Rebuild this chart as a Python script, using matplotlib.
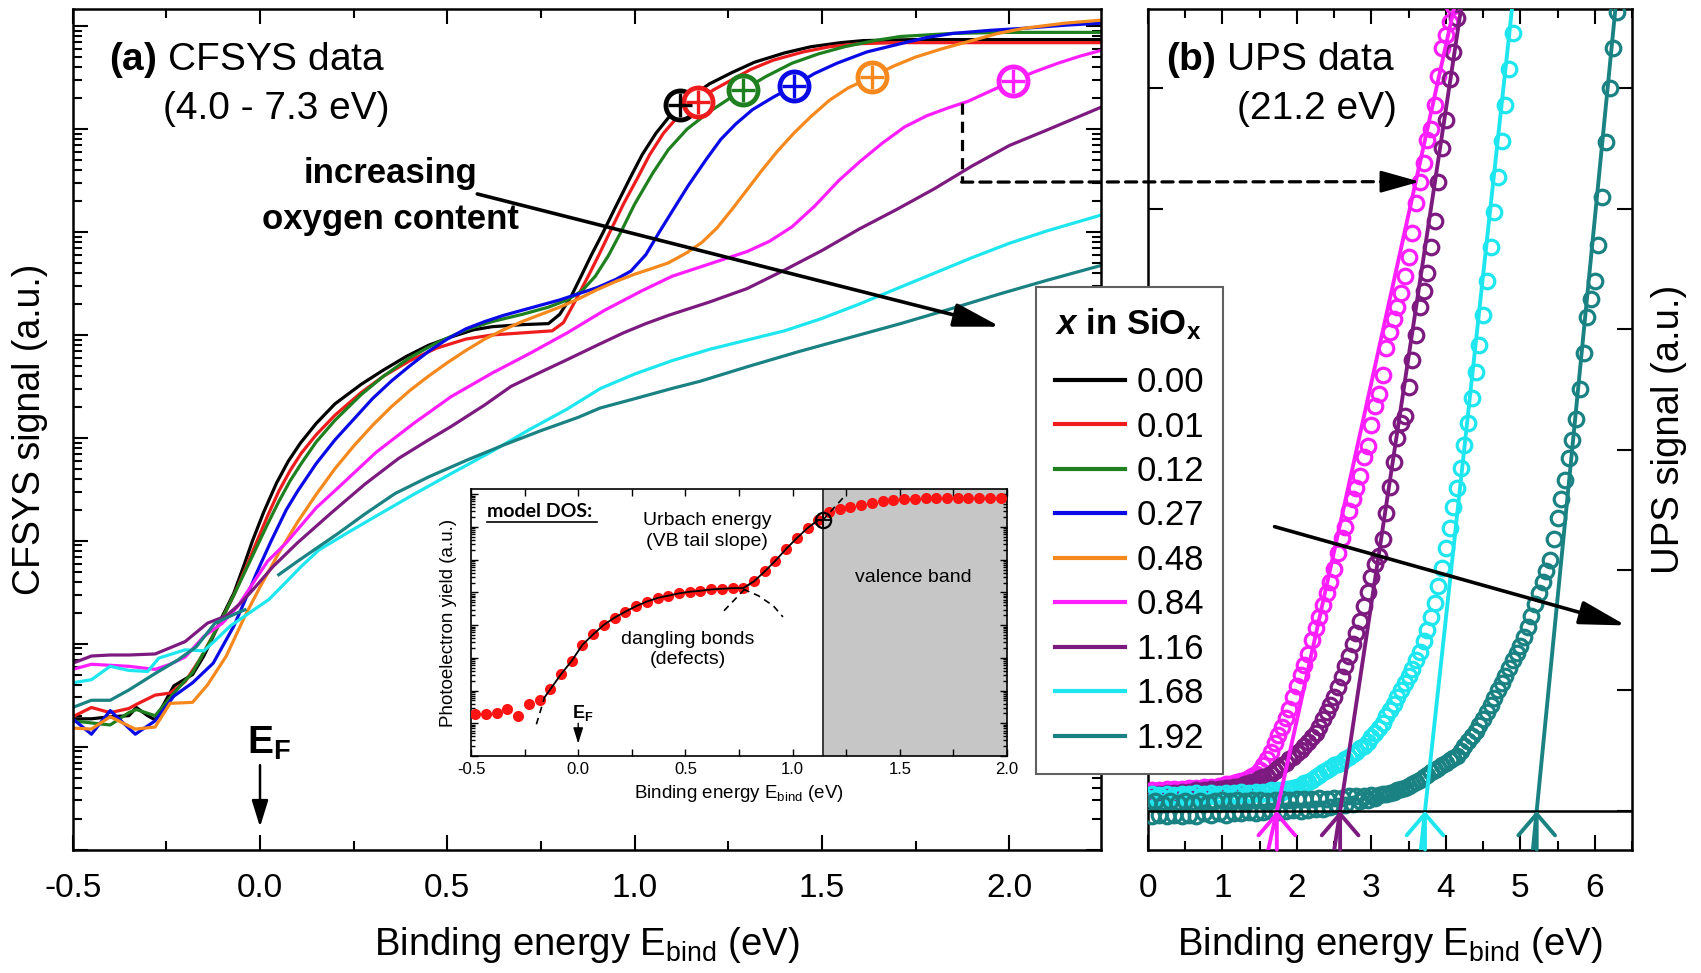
import numpy as np
import matplotlib
matplotlib.use("Agg")
import matplotlib.pyplot as plt
from matplotlib.ticker import MultipleLocator, LogLocator, NullFormatter, FormatStrFormatter
from matplotlib.patches import ConnectionPatch

plt.rcParams.update({
    'font.family': ['Liberation Sans', 'DejaVu Sans'],
    'mathtext.fontset': 'custom',
    'mathtext.rm': 'Liberation Sans',
    'mathtext.bf': 'Liberation Sans:bold',
    'mathtext.it': 'Liberation Sans:italic:bold',
    'mathtext.sf': 'Liberation Sans',
    'axes.unicode_minus': False,
    'axes.linewidth': 1.8,
})

# ---------------- data ----------------
x_labels = ['0.00', '0.01', '0.12', '0.27', '0.48', '0.84', '1.16', '1.68', '1.92']
colors = ['#000000', '#ee1c1c', '#1e801e', '#0a0ae6', '#f5891e',
          '#ff1eff', '#7d1a80', '#1ee6ee', '#1a8282']

# CFSYS curves: binding energy (eV) and log10 of signal (a.u.)
cf_E_000 = [-0.5, -0.45, -0.4, -0.35, -0.33, -0.3, -0.28, -0.23, -0.18, -0.15, -0.125, -0.1, -0.07, -0.045, -0.02, 0.01, 0.044, 0.075, 0.108, 0.15, 0.2, 0.27, 0.33, 0.39, 0.45, 0.51, 0.57, 0.62, 0.7, 0.77, 0.8, 0.83, 0.857, 0.885, 0.915, 0.95, 0.99, 1.02, 1.057, 1.09, 1.12, 1.16, 1.2, 1.26, 1.32, 1.4, 1.47, 1.55, 1.61, 1.75, 1.9, 2.1, 2.25]
cf_L_000 = [1.27, 1.27, 1.29, 1.30, 1.38, 1.30, 1.26, 1.59, 1.70, 1.88, 2.07, 2.27, 2.49, 2.74, 3.00, 3.28, 3.56, 3.77, 3.95, 4.14, 4.33, 4.52, 4.66, 4.79, 4.90, 4.98, 5.05, 5.08, 5.10, 5.11, 5.20, 5.37, 5.57, 5.78, 5.99, 6.25, 6.54, 6.75, 6.96, 7.11, 7.23, 7.34, 7.44, 7.55, 7.65, 7.74, 7.80, 7.84, 7.86, 7.87, 7.87, 7.87, 7.87]

cf_E_001 = [-0.5, -0.45, -0.4, -0.35, -0.33, -0.28, -0.24, -0.2, -0.16, -0.13, -0.1, -0.07, -0.04, -0.01, 0.02, 0.05, 0.08, 0.11, 0.15, 0.2, 0.27, 0.33, 0.4, 0.47, 0.55, 0.62, 0.7, 0.78, 0.81, 0.84, 0.876, 0.905, 0.934, 0.97, 1.01, 1.04, 1.077, 1.12, 1.168, 1.21, 1.26, 1.31, 1.37, 1.45, 1.52, 1.6, 1.7, 1.9, 2.25]
cf_L_001 = [1.29, 1.38, 1.33, 1.37, 1.41, 1.50, 1.52, 1.63, 1.85, 2.05, 2.25, 2.47, 2.72, 2.98, 3.24, 3.48, 3.68, 3.85, 4.03, 4.22, 4.44, 4.60, 4.75, 4.87, 4.96, 5.00, 5.02, 5.04, 5.12, 5.32, 5.57, 5.78, 6.00, 6.27, 6.54, 6.75, 6.96, 7.14, 7.27, 7.38, 7.48, 7.58, 7.67, 7.75, 7.80, 7.83, 7.84, 7.84, 7.84]

cf_E_012 = [-0.5, -0.45, -0.4, -0.35, -0.33, -0.28, -0.23, -0.18, -0.14, -0.1, -0.07, -0.04, -0.01, 0.02, 0.05, 0.08, 0.11, 0.15, 0.2, 0.27, 0.33, 0.4, 0.47, 0.55, 0.62, 0.7, 0.77, 0.82, 0.86, 0.895, 0.93, 0.962, 1.0, 1.048, 1.09, 1.14, 1.2, 1.25, 1.29, 1.35, 1.42, 1.49, 1.56, 1.64, 1.71, 1.85, 2.0, 2.25]
cf_L_012 = [1.25, 1.23, 1.21, 1.33, 1.36, 1.30, 1.52, 1.72, 1.98, 2.25, 2.47, 2.70, 2.93, 3.16, 3.38, 3.58, 3.75, 3.96, 4.17, 4.42, 4.60, 4.78, 4.92, 5.05, 5.13, 5.20, 5.27, 5.34, 5.43, 5.57, 5.77, 5.99, 6.27, 6.57, 6.80, 7.00, 7.17, 7.29, 7.38, 7.51, 7.64, 7.73, 7.80, 7.86, 7.90, 7.93, 7.94, 7.94]

cf_E_027 = [-0.5, -0.45, -0.4, -0.333, -0.28, -0.23, -0.18, -0.125, -0.07, -0.04, -0.01, 0.03, 0.07, 0.1, 0.15, 0.2, 0.25, 0.3, 0.35, 0.4, 0.45, 0.5, 0.55, 0.6, 0.65, 0.7, 0.75, 0.8, 0.85, 0.9, 0.95, 0.99, 1.03, 1.066, 1.1, 1.143, 1.19, 1.23, 1.27, 1.315, 1.37, 1.425, 1.48, 1.54, 1.62, 1.71, 1.78, 1.85, 1.95, 2.04, 2.15, 2.25]
cf_L_027 = [1.27, 1.12, 1.35, 1.12, 1.25, 1.49, 1.62, 1.81, 2.17, 2.42, 2.68, 3.00, 3.30, 3.48, 3.75, 3.98, 4.18, 4.38, 4.55, 4.70, 4.84, 4.96, 5.06, 5.13, 5.19, 5.24, 5.29, 5.34, 5.40, 5.46, 5.54, 5.62, 5.78, 6.00, 6.20, 6.45, 6.70, 6.90, 7.05, 7.19, 7.31, 7.42, 7.54, 7.64, 7.75, 7.83, 7.89, 7.93, 7.96, 7.98, 8.01, 8.03]

cf_E_048 = [-0.5, -0.45, -0.4, -0.333, -0.28, -0.24, -0.18, -0.14, -0.09, -0.04, 0.0, 0.05, 0.1, 0.15, 0.2, 0.25, 0.3, 0.35, 0.4, 0.45, 0.5, 0.55, 0.6, 0.65, 0.7, 0.75, 0.8, 0.85, 0.9, 0.95, 1.0, 1.05, 1.09, 1.14, 1.18, 1.22, 1.26, 1.3, 1.34, 1.38, 1.425, 1.47, 1.52, 1.57, 1.635, 1.69, 1.75, 1.82, 1.9, 1.97, 2.04, 2.15, 2.25]
cf_L_048 = [1.18, 1.17, 1.29, 1.17, 1.19, 1.42, 1.43, 1.60, 1.88, 2.27, 2.55, 2.88, 3.18, 3.45, 3.70, 3.92, 4.12, 4.30, 4.46, 4.60, 4.73, 4.85, 4.96, 5.05, 5.13, 5.20, 5.27, 5.35, 5.44, 5.52, 5.59, 5.65, 5.70, 5.80, 5.90, 6.04, 6.22, 6.41, 6.60, 6.78, 6.96, 7.12, 7.28, 7.40, 7.51, 7.61, 7.70, 7.78, 7.86, 7.93, 7.98, 8.03, 8.06]

cf_E_084 = [-0.5, -0.45, -0.4, -0.35, -0.28, -0.24, -0.2, -0.15, -0.1, -0.06, -0.02, 0.02, 0.07, 0.11, 0.15, 0.21, 0.31, 0.41, 0.51, 0.62, 0.72, 0.82, 0.92, 1.02, 1.1, 1.2, 1.3, 1.36, 1.42, 1.48, 1.545, 1.6, 1.66, 1.72, 1.78, 1.84, 1.89, 1.95, 2.01, 2.07, 2.13, 2.19, 2.25]
cf_L_084 = [1.75, 1.80, 1.79, 1.78, 1.75, 1.80, 1.87, 2.07, 2.20, 2.36, 2.58, 2.80, 2.98, 3.15, 3.32, 3.52, 3.86, 4.14, 4.40, 4.63, 4.82, 5.02, 5.24, 5.43, 5.57, 5.69, 5.81, 5.91, 6.05, 6.25, 6.50, 6.68, 6.86, 7.02, 7.13, 7.21, 7.27, 7.37, 7.47, 7.56, 7.64, 7.71, 7.77]

cf_E_116 = [-0.5, -0.45, -0.4, -0.35, -0.28, -0.24, -0.2, -0.14, -0.09, -0.05, -0.02, 0.035, 0.1, 0.19, 0.28, 0.37, 0.45, 0.51, 0.6, 0.67, 0.75, 0.82, 0.9, 0.97, 1.03, 1.09, 1.2, 1.3, 1.4, 1.5, 1.6, 1.7, 1.8, 1.9, 2.0, 2.1, 2.25]
cf_L_116 = [1.81, 1.88, 1.89, 1.89, 1.90, 1.96, 2.02, 2.20, 2.27, 2.40, 2.52, 2.75, 2.98, 3.27, 3.55, 3.80, 3.98, 4.11, 4.32, 4.50, 4.64, 4.76, 4.90, 5.02, 5.11, 5.19, 5.32, 5.45, 5.63, 5.82, 6.03, 6.22, 6.42, 6.64, 6.84, 6.99, 7.22]

cf_E_168 = [-0.5, -0.45, -0.4, -0.35, -0.3, -0.27, -0.2, -0.15, -0.12, -0.08, -0.04, 0.0, 0.024, 0.07, 0.11, 0.157, 0.23, 0.31, 0.41, 0.514, 0.62, 0.719, 0.82, 0.909, 1.0, 1.1, 1.2, 1.3, 1.4, 1.5, 1.6, 1.7, 1.8, 1.9, 2.0, 2.1, 2.25]
cf_L_168 = [1.62, 1.65, 1.78, 1.74, 1.73, 1.86, 1.94, 1.93, 2.03, 2.17, 2.27, 2.37, 2.43, 2.60, 2.75, 2.91, 3.07, 3.24, 3.45, 3.66, 3.87, 4.08, 4.28, 4.48, 4.62, 4.75, 4.86, 4.95, 5.04, 5.16, 5.30, 5.45, 5.60, 5.75, 5.89, 6.01, 6.17]

cf_E_192 = [-0.5, -0.45, -0.4, -0.35, -0.28, -0.22, -0.17, -0.12, -0.06, -0.04, np.nan, 0.05, 0.1, 0.208, 0.28, 0.361, 0.45, 0.55, 0.65, 0.75, 0.85, 0.908, 1.0, 1.1, 1.175, 1.3, 1.44, 1.58, 1.71, 1.85, 1.976, 2.1, 2.25]
cf_L_192 = [1.38, 1.45, 1.45, 1.55, 1.71, 1.84, 1.97, 2.20, 2.30, 2.33, np.nan, 2.67, 2.80, 3.07, 3.26, 3.46, 3.62, 3.78, 3.93, 4.07, 4.20, 4.29, 4.38, 4.48, 4.55, 4.69, 4.84, 4.98, 5.11, 5.26, 5.40, 5.53, 5.68]

# VB-onset markers (x = 0.00 ... 0.84)
onset_E = [1.12, 1.168, 1.29, 1.425, 1.635, 2.01]
onset_L = [7.23, 7.26, 7.38, 7.42, 7.51, 7.47]

# inset: model DOS
ins_E = [-0.48, -0.43, -0.38, -0.33, -0.28, -0.23, -0.18, -0.13, -0.08, -0.03, 0.02, 0.07, 0.12, 0.17, 0.22, 0.27, 0.32, 0.37, 0.42, 0.47, 0.52, 0.57, 0.62, 0.67, 0.72, 0.77, 0.82, 0.87, 0.92, 0.97, 1.02, 1.07, 1.12, 1.17, 1.22, 1.27, 1.32, 1.37, 1.42, 1.47, 1.52, 1.57, 1.62, 1.67, 1.72, 1.77, 1.82, 1.87, 1.92, 1.97]
ins_L = [1.28, 1.28, 1.31, 1.44, 1.22, 1.60, 1.72, 2.04, 2.50, 2.91, 3.40, 3.72, 4.01, 4.23, 4.41, 4.58, 4.72, 4.83, 4.90, 4.97, 5.02, 5.05, 5.09, 5.11, 5.13, 5.13, 5.34, 5.64, 5.97, 6.33, 6.66, 6.97, 7.21, 7.45, 7.55, 7.62, 7.68, 7.73, 7.78, 7.81, 7.84, 7.86, 7.87, 7.88, 7.89, 7.89, 7.90, 7.90, 7.90, 7.90]
ins_fit_E = [-0.157, -0.13, -0.08, -0.03, 0.02, 0.07, 0.12, 0.17, 0.22, 0.27, 0.32, 0.37, 0.42, 0.47, 0.52, 0.57, 0.62, 0.67, 0.72, 0.77, 0.82, 0.87, 0.92, 0.97, 1.02, 1.07, 1.12, 1.14]
ins_fit_L = [1.79, 2.04, 2.50, 2.91, 3.40, 3.72, 4.01, 4.23, 4.41, 4.58, 4.72, 4.83, 4.90, 4.97, 5.02, 5.05, 5.09, 5.11, 5.13, 5.13, 5.34, 5.64, 5.97, 6.33, 6.66, 6.97, 7.21, 7.20]
ins_tail_E = [-0.195, -0.157]
ins_tail_L = [0.97, 1.79]
ins_db_E = [0.77, 0.84, 0.91, 0.955]
ins_db_L = [5.10, 4.90, 4.59, 4.25]
ins_ur_lo_E = [0.68, 0.80]
ins_ur_lo_L = [4.44, 5.26]
ins_ur_hi_E = [1.14, 1.245]
ins_ur_hi_L = [7.20, 7.96]
ins_vb_edge = 1.14

# UPS data (binding energy, signal) for x = 0.84, 1.16, 1.68, 1.92
ups_E_084 = [0.0, 0.05, 0.1, 0.15, 0.2, 0.25, 0.3, 0.35, 0.4, 0.45, 0.5, 0.55, 0.6, 0.65, 0.7, 0.75, 0.8, 0.85, 0.9, 0.95,
             1.0, 1.05, 1.1, 1.15, 1.2, 1.25, 1.3, 1.35, 1.4,
             1.45, 1.5, 1.55, 1.6, 1.65, 1.7, 1.75, 1.8, 1.85, 1.9, 1.95,
             2.0, 2.05, 2.1, 2.15, 2.2, 2.25, 2.3, 2.35, 2.4, 2.45, 2.5, 2.55, 2.6, 2.65, 2.7, 2.75, 2.8, 2.85, 2.9, 2.95,
             3.0, 3.05, 3.1, 3.15, 3.2, 3.25, 3.3, 3.35, 3.4, 3.45, 3.5, 3.55, 3.6, 3.65, 3.7, 3.75, 3.8, 3.85, 3.9, 3.95,
             4.0, 4.05, 4.1]
ups_U_084 = [0.15, 0.17, 0.15, 0.17, 0.16, 0.18, 0.16, 0.18, 0.17, 0.18, 0.17, 0.19, 0.18, 0.19, 0.18, 0.20, 0.19, 0.20, 0.19, 0.21,
             0.21, 0.22, 0.22, 0.23, 0.24, 0.25, 0.26, 0.27, 0.29,
             0.31, 0.34, 0.38, 0.43, 0.49, 0.56, 0.63, 0.70, 0.77, 0.85, 0.95,
             1.04, 1.13, 1.21, 1.30, 1.42, 1.52, 1.61, 1.71, 1.81, 1.90, 2.01, 2.14, 2.27, 2.36, 2.49, 2.59, 2.68, 2.78, 2.94, 3.03,
             3.20, 3.36, 3.46, 3.62, 3.84, 3.98, 4.08, 4.18, 4.30, 4.44, 4.60, 4.80, 5.05, 5.22, 5.38, 5.57, 5.66, 5.86, 6.10, 6.33,
             6.44, 6.55, 6.68]
ups_E_116 = [0.0, 0.05, 0.1, 0.15, 0.2, 0.25, 0.3, 0.35, 0.4, 0.45, 0.5, 0.55, 0.6, 0.65, 0.7, 0.75, 0.8, 0.85, 0.9, 0.95,
             1.0, 1.05, 1.1, 1.15, 1.2, 1.25, 1.3, 1.35, 1.4, 1.45, 1.5,
             1.55, 1.6, 1.65, 1.7, 1.75, 1.8, 1.85, 1.9, 1.95,
             2.0, 2.05, 2.1, 2.15, 2.2, 2.25, 2.3, 2.35, 2.4, 2.45, 2.5, 2.55, 2.6, 2.65, 2.7, 2.75, 2.8, 2.85, 2.9, 2.95,
             3.0, 3.05, 3.1, 3.15, 3.2, 3.25, 3.3, 3.35, 3.4, 3.45, 3.5, 3.55, 3.6, 3.65, 3.7, 3.75, 3.8, 3.85, 3.9, 3.95,
             4.0, 4.05, 4.1, 4.15]
ups_U_116 = [0.12, 0.14, 0.12, 0.14, 0.13, 0.15, 0.13, 0.15, 0.14, 0.16, 0.14, 0.16, 0.15, 0.17, 0.15, 0.17, 0.16, 0.18, 0.17, 0.18,
             0.18, 0.19, 0.19, 0.20, 0.20, 0.21, 0.22, 0.23, 0.24, 0.25, 0.27,
             0.28, 0.29, 0.31, 0.33, 0.36, 0.38, 0.40, 0.43, 0.45,
             0.48, 0.51, 0.54, 0.57, 0.61, 0.65, 0.70, 0.76, 0.82, 0.88, 0.95, 1.03, 1.11, 1.20, 1.29, 1.39, 1.48, 1.58, 1.70, 1.82,
             1.94, 2.05, 2.12, 2.26, 2.47, 2.69, 2.90, 3.10, 3.22, 3.28, 3.52, 3.74, 3.95, 4.18, 4.32, 4.47, 4.68, 4.90, 5.22, 5.50,
             5.74, 6.08, 6.30, 6.58]
ups_E_168 = [0.0, 0.05, 0.1, 0.15, 0.2, 0.25, 0.3, 0.35, 0.4, 0.45, 0.5, 0.55, 0.6, 0.65, 0.7, 0.75, 0.8, 0.85, 0.9, 0.95,
             1.0, 1.05, 1.1, 1.15, 1.2, 1.25, 1.3, 1.35, 1.4, 1.45, 1.5, 1.55, 1.6, 1.65, 1.7, 1.75, 1.8, 1.85, 1.9,
             1.95, 2.0, 2.05, 2.1, 2.15, 2.2, 2.25, 2.3, 2.35, 2.4, 2.45, 2.5, 2.55, 2.6, 2.65, 2.7, 2.75, 2.8, 2.85, 2.9, 2.95,
             3.0, 3.05, 3.1, 3.15, 3.2, 3.25, 3.3, 3.35, 3.4, 3.45, 3.5, 3.55, 3.6, 3.65, 3.7, 3.75, 3.8, 3.85, 3.9, 3.95,
             4.0, 4.05, 4.1, 4.15, 4.2, 4.25, 4.3, 4.35, 4.4, 4.45, 4.5, 4.55, 4.6, 4.65, 4.7, 4.75, 4.8, 4.85, 4.9]
ups_U_168 = [0.11, 0.14, 0.10, 0.13, 0.11, 0.14, 0.10, 0.13, 0.12, 0.14, 0.11, 0.14, 0.12, 0.15, 0.11, 0.14, 0.12, 0.15, 0.12, 0.14,
             0.13, 0.15, 0.12, 0.15, 0.13, 0.16, 0.13, 0.15, 0.14, 0.16, 0.14, 0.16, 0.15, 0.17, 0.15, 0.17, 0.16, 0.18, 0.18,
             0.19, 0.20, 0.21, 0.23, 0.24, 0.26, 0.28, 0.30, 0.32, 0.34, 0.36, 0.38, 0.39, 0.41, 0.43, 0.45, 0.47, 0.49, 0.52, 0.54, 0.57,
             0.61, 0.65, 0.69, 0.73, 0.79, 0.84, 0.89, 0.95, 1.00, 1.06, 1.12, 1.18, 1.25, 1.32, 1.41, 1.50, 1.61, 1.73, 1.87, 2.02,
             2.18, 2.35, 2.52, 2.68, 2.85, 3.04, 3.22, 3.43, 3.64, 3.87, 4.12, 4.40, 4.68, 4.97, 5.26, 5.56, 5.86, 6.16, 6.46]
ups_E_192 = [0.0, 0.05, 0.1, 0.15, 0.2, 0.25, 0.3, 0.35, 0.4, 0.45, 0.5, 0.55, 0.6, 0.65, 0.7, 0.75, 0.8, 0.85, 0.9, 0.95,
             1.0, 1.05, 1.1, 1.15, 1.2, 1.25, 1.3, 1.35, 1.4, 1.45, 1.5, 1.55, 1.6, 1.65, 1.7, 1.75, 1.8, 1.85, 1.9, 1.95,
             2.0, 2.05, 2.1, 2.15, 2.2, 2.25, 2.3, 2.35, 2.4, 2.45, 2.5, 2.55, 2.6, 2.65, 2.7, 2.75, 2.8, 2.85, 2.9, 2.95,
             3.0, 3.05, 3.1, 3.15, 3.2,
             3.25, 3.3, 3.35, 3.4, 3.45, 3.5, 3.55, 3.6, 3.65, 3.7, 3.75, 3.8, 3.85, 3.9, 3.95,
             4.0, 4.05, 4.1, 4.15, 4.2, 4.25, 4.3, 4.35, 4.4, 4.45, 4.5, 4.55, 4.6, 4.65, 4.7, 4.75, 4.8, 4.85, 4.9, 4.95,
             5.0, 5.05, 5.1, 5.15, 5.2, 5.25, 5.3, 5.35, 5.4, 5.45, 5.5, 5.55, 5.6, 5.65, 5.7, 5.75, 5.8, 5.85, 5.9, 5.95,
             6.0, 6.05, 6.1, 6.15, 6.2, 6.25, 6.3]
ups_U_192 = [0.07, -0.04, 0.08, -0.03, 0.06, -0.04, 0.08, -0.03, 0.07, -0.04,
             0.08, -0.03, 0.07, -0.04, 0.08, -0.02, 0.07, -0.03, 0.08, -0.02,
             0.09, -0.03, 0.08, -0.02, 0.09, -0.02, 0.08, -0.01, 0.09, -0.02,
             0.09, -0.01, 0.08, 0.00, 0.09, -0.01, 0.10, 0.00, 0.09, 0.01,
             0.10, 0.00, 0.10, 0.01, 0.10, 0.02, 0.11, 0.02, 0.10, 0.03,
             0.11, 0.04, 0.11, 0.05, 0.12, 0.06, 0.12, 0.08, 0.12, 0.09,
             0.13, 0.11, 0.13, 0.14, 0.14,
             0.15, 0.16, 0.17, 0.18, 0.19, 0.21, 0.22, 0.24, 0.26, 0.28, 0.30, 0.32, 0.34, 0.36, 0.38,
             0.40, 0.42, 0.44, 0.46, 0.50, 0.54, 0.58, 0.62, 0.66, 0.71, 0.76, 0.82, 0.88, 0.94, 1.00, 1.06, 1.12, 1.19, 1.25, 1.31,
             1.37, 1.44, 1.53, 1.62, 1.72, 1.81, 1.90, 1.99, 2.08, 2.26, 2.43, 2.59, 2.75, 2.93, 3.08, 3.25, 3.50, 3.80, 4.10, 4.25,
             4.40, 4.70, 5.10, 5.55, 6.00, 6.33, 6.63]

# linear onset fits: onset energy (eV) and slope (signal per eV)
ups_onset = [1.73, 2.58, 3.72, 5.22]
ups_slope = [2.8, 4.1, 5.7, 6.3]
ups_colors = ['#ff1eff', '#7d1a80', '#1ee6ee', '#1a8282']

# ---------------- figure ----------------
W, H = 1701, 973
fig = plt.figure(figsize=(W / 100, H / 100), dpi=100)
fig.patch.set_facecolor('white')


def box(l, t, r, b):
    return [l / W, 1 - b / H, (r - l) / W, (b - t) / H]


axA = fig.add_axes(box(72.7, 8.7, 1101, 849.5))
axB = fig.add_axes(box(1148, 8.7, 1632, 849.5))
axI = fig.add_axes(box(471, 489, 1007, 756))

# ---- panel (a)
cf_E = [cf_E_000, cf_E_001, cf_E_012, cf_E_027, cf_E_048, cf_E_084, cf_E_116, cf_E_168, cf_E_192]
cf_L = [cf_L_000, cf_L_001, cf_L_012, cf_L_027, cf_L_048, cf_L_084, cf_L_116, cf_L_168, cf_L_192]
handles = []
for E, L, c, lab in zip(cf_E, cf_L, colors, x_labels):
    h, = axA.plot(E, 10 ** np.array(L, dtype=float), color=c, lw=2.3, label=lab)
    handles.append(h)

for E, L, c in zip(onset_E, onset_L, colors):
    axA.plot(E, 10 ** L, 'o', ms=21, mfc='white', mec=c, mew=3.4, zorder=5)
    axA.plot(E, 10 ** L, '+', ms=17, mec=c, mew=2.4, zorder=6)

axA.set_yscale('log')
axA.set_xlim(-0.5, 2.245)
axA.set_ylim(1, 10 ** 8.17)
axA.xaxis.set_major_locator(MultipleLocator(0.5))
axA.xaxis.set_minor_locator(MultipleLocator(0.25))
axA.xaxis.set_major_formatter(FormatStrFormatter('%.1f'))
axA.yaxis.set_major_locator(LogLocator(base=10, numticks=20))
axA.yaxis.set_minor_locator(LogLocator(base=10, subs=np.arange(2, 10), numticks=20))
axA.yaxis.set_major_formatter(NullFormatter())
axA.yaxis.set_minor_formatter(NullFormatter())
axA.tick_params(which='both', direction='in', top=True, right=True, width=1.5)
axA.tick_params(which='major', length=11, labelsize=24)
axA.tick_params(axis='x', which='major', pad=17)
axA.tick_params(which='minor', length=6.5)
axA.set_xlabel(r'Binding energy E$_\mathrm{bind}$ (eV)', fontsize=27.5, labelpad=15)
axA.set_ylabel('CFSYS signal (a.u.)', fontsize=27, labelpad=14)

axA.text(0.035, 0.939, r'$\mathbf{(a)}$ CFSYS data', transform=axA.transAxes, fontsize=28,
         ha='left', va='center')
axA.text(0.088, 0.881, '(4.0 - 7.3 eV)', transform=axA.transAxes, fontsize=28, ha='left', va='center')
axA.text(0.309, 0.804, 'increasing', transform=axA.transAxes, fontsize=25, fontweight='bold',
         ha='center', va='center')
axA.text(0.309, 0.749, 'oxygen content', transform=axA.transAxes, fontsize=25, fontweight='bold',
         ha='center', va='center')
axA.annotate('', xy=(1.976, 10 ** 5.08), xytext=(0.58, 10 ** 6.37),
             arrowprops=dict(arrowstyle='-|>,head_length=1.3,head_width=0.33', color='k', lw=2.6,
                             mutation_scale=22, shrinkA=0, shrinkB=0))
axA.text(0.025, 10 ** 1.03, r'E$_\mathbf{F}$', fontsize=28, fontweight='bold', ha='center', va='center')
axA.annotate('', xy=(0.0, 10 ** 0.22), xytext=(0.0, 10 ** 0.82),
             arrowprops=dict(arrowstyle='-|>,head_length=0.9,head_width=0.28', color='k', lw=1.8,
                             mutation_scale=18, shrinkA=0, shrinkB=0))

# dashed link from panel (a) to panel (b)
link_E = 1.873
link_L = [7.25, 6.485]
link_U = 5.224
dash = (0, (3.5, 2.2))
axA.plot([link_E, link_E], [10 ** link_L[0], 10 ** link_L[1]], color='k', lw=2.3, ls=dash, zorder=4)
con = ConnectionPatch(xyA=(link_E, 10 ** link_L[1]), coordsA=axA.transData,
                      xyB=(3.30, link_U), coordsB=axB.transData, color='k', lw=2.3, ls=dash)
fig.add_artist(con)
head = ConnectionPatch(xyA=(3.15, link_U), coordsA=axB.transData, xyB=(3.65, link_U), coordsB=axB.transData,
                       arrowstyle='-|>,head_length=1.35,head_width=0.38', mutation_scale=18,
                       color='k', lw=2.0, shrinkA=0, shrinkB=0)
fig.add_artist(head)

# ---- inset
axI.axvspan(ins_vb_edge, 2.0, color='#c6c6c6', lw=0, zorder=0)
axI.axvline(ins_vb_edge, color='#3a3a3a', lw=1.4, zorder=1)
axI.plot(ins_E, 10 ** np.array(ins_L), 'o', color='#ff1414', ms=8, mec='none', zorder=3)
axI.plot(ins_fit_E, 10 ** np.array(ins_fit_L), color='k', lw=1.3, zorder=4)
for dE, dL in [(ins_tail_E, ins_tail_L), (ins_db_E, ins_db_L), (ins_ur_lo_E, ins_ur_lo_L),
               (ins_ur_hi_E, ins_ur_hi_L)]:
    axI.plot(dE, 10 ** np.array(dL), color='k', lw=1.2, ls=(0, (4, 3)), zorder=4)
axI.plot(ins_ur_hi_E[0], 10 ** ins_ur_hi_L[0], 'o', ms=11, mfc='none', mec='k', mew=1.6, zorder=5)
axI.plot(ins_ur_hi_E[0], 10 ** ins_ur_hi_L[0], '+', ms=9.5, mec='k', mew=1.3, zorder=5)
axI.set_yscale('log')
axI.set_xlim(-0.5, 2.0)
axI.set_ylim(1, 10 ** 8.16)
axI.xaxis.set_major_locator(MultipleLocator(0.5))
axI.xaxis.set_minor_locator(MultipleLocator(0.25))
axI.xaxis.set_major_formatter(FormatStrFormatter('%.1f'))
axI.yaxis.set_major_locator(LogLocator(base=10, numticks=20))
axI.yaxis.set_minor_locator(LogLocator(base=10, subs=np.arange(2, 10), numticks=20))
axI.yaxis.set_major_formatter(NullFormatter())
axI.yaxis.set_minor_formatter(NullFormatter())
axI.tick_params(which='both', direction='in', top=True, right=True, width=1.0)
axI.tick_params(which='major', length=5, labelsize=12, pad=4)
axI.tick_params(which='minor', length=3)
axI.tick_params(axis='x', which='minor', length=5)
for s in axI.spines.values():
    s.set_linewidth(1.2)
axI.set_xlabel(r'Binding energy E$_\mathrm{bind}$ (eV)', fontsize=13.5, labelpad=5)
axI.set_ylabel('Photoelectron yield (a.u.)', fontsize=13.5, labelpad=6)
axI.text(0.03, 0.915, 'model DOS:', transform=axI.transAxes, fontsize=14, fontweight='bold',
         family='Lato', ha='left', va='center')
axI.plot([0.03, 0.235], [0.878, 0.878], transform=axI.transAxes, color='k', lw=1.2, clip_on=False)
axI.text(0.441, 0.843, 'Urbach energy\n(VB tail slope)', transform=axI.transAxes, fontsize=14,
         ha='center', va='center', linespacing=1.25)
axI.text(0.405, 0.40, 'dangling bonds\n(defects)', transform=axI.transAxes, fontsize=14,
         ha='center', va='center', linespacing=1.25)
axI.text(0.826, 0.67, 'valence band', transform=axI.transAxes, fontsize=14, ha='center', va='center')
axI.text(0.022, 10 ** 1.31, r'E$_\mathbf{F}$', fontsize=13, fontweight='bold', ha='center', va='center')
axI.annotate('', xy=(0.0, 10 ** 0.38), xytext=(0.0, 10 ** 1.0),
             arrowprops=dict(arrowstyle='-|>,head_length=0.8,head_width=0.25', color='k', lw=1.0,
                             mutation_scale=12, shrinkA=0, shrinkB=0))

# ---- panel (b)
ups_E = [ups_E_084, ups_E_116, ups_E_168, ups_E_192]
ups_U = [ups_U_084, ups_U_116, ups_U_168, ups_U_192]
axB.set_xlim(0, 6.5)
axB.set_ylim(-0.32, 6.66)
ylo, yhi = axB.get_ylim()
for E, U, c in zip(ups_E, ups_U, ups_colors):
    axB.plot(E, U, 'o', mfc='none', mec=c, ms=10.5, mew=2.3, zorder=3)
for E0, k, c in zip(ups_onset, ups_slope, ups_colors):
    yy = np.array([ylo, yhi])
    axB.plot(E0 + yy / k, yy, color=c, lw=2.8, zorder=4)
axB.axhline(0, color='k', lw=1.8, zorder=6)
for E0, c in zip(ups_onset, ups_colors):
    axB.annotate('', xy=(E0, 0), xytext=(E0, ylo),
                 arrowprops=dict(arrowstyle='->,head_length=0.7,head_width=0.6', color=c, lw=2.8,
                                 mutation_scale=22, shrinkA=0, shrinkB=0), zorder=7)
axB.annotate('', xy=(6.42, 1.54), xytext=(1.70, 2.36),
             arrowprops=dict(arrowstyle='-|>,head_length=1.3,head_width=0.33', color='k', lw=2.6,
                             mutation_scale=22, shrinkA=0, shrinkB=0), zorder=8)
axB.xaxis.set_major_locator(MultipleLocator(1))
axB.xaxis.set_minor_locator(MultipleLocator(0.5))
axB.yaxis.set_major_locator(MultipleLocator(1))
axB.yaxis.set_major_formatter(NullFormatter())
axB.tick_params(which='both', direction='in', top=True, right=True, left=True, width=1.5)
axB.tick_params(which='major', length=11, labelsize=24)
axB.tick_params(axis='x', which='major', pad=17)
axB.tick_params(which='minor', length=6.5)
axB.set_xlabel(r'Binding energy E$_\mathrm{bind}$ (eV)', fontsize=27.5, labelpad=15)
axB.yaxis.set_label_position('right')
axB.set_ylabel('UPS signal (a.u.)', fontsize=27.5, labelpad=14)
axB.text(0.037, 0.939, r'$\mathbf{(b)}$ UPS data', transform=axB.transAxes, fontsize=28,
         ha='left', va='center')
axB.text(0.183, 0.881, '(21.2 eV)', transform=axB.transAxes, fontsize=28, ha='left', va='center')

# ---- legend spanning both panels
leg = fig.legend(handles, x_labels, loc='upper left', bbox_to_anchor=(1036 / W, 1 - 287 / H),
                 bbox_transform=fig.transFigure, title=r'$\mathit{x}$ in SiO$_\mathbf{x}$',
                 title_fontproperties={'weight': 'bold', 'size': 25}, fontsize=25,
                 frameon=True, fancybox=False, framealpha=1, edgecolor='#606060',
                 handlelength=2.0, handletextpad=0.35, labelspacing=0.33, borderpad=0.55,
                 borderaxespad=0, alignment='left')
leg._legend_box.sep = 17.5
leg.get_frame().set_linewidth(1.5)
for ln in leg.get_lines():
    ln.set_linewidth(3.0)

fig.savefig('out.png', dpi=100, facecolor='white')
